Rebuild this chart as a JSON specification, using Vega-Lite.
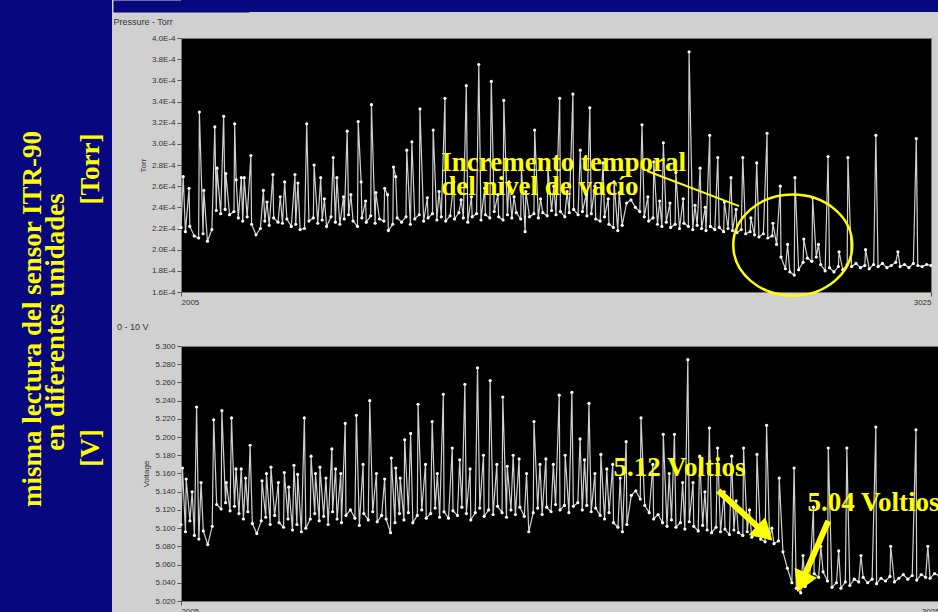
{
"$schema": "https://vega.github.io/schema/vega-lite/v6.json",
"background": "#d0d0d0",
"padding": 0,
"config": {
 "view": {"stroke": null},
 "concat": {"spacing": 0},
 "axis": {"labelFont": "Liberation Sans", "labelFontSize": 8, "labelColor": "#333333", "tickColor": "#555555", "tickSize": 4, "labelPadding": 2, "domain": false, "grid": false, "labelOverlap": false, "titleFont": "Liberation Sans", "titleFontSize": 8, "titleFontWeight": "normal", "titleColor": "#333333", "titlePadding": 4},
 "title": {"font": "Liberation Sans", "fontSize": 9, "fontWeight": "normal", "color": "#333333", "anchor": "start"}
},
"datasets": {
 "torr": [
{"x":2005,"v":2.21e-4},{"x":2011,"v":2.17e-4},{"x":2017,"v":2.22e-4},{"x":2023,"v":2.13e-4},{"x":2029,"v":2.11e-4},{"x":2035,"v":2.15e-4},{"x":2041,"v":2.08e-4},{"x":2047,"v":2.19e-4},{"x":2053,"v":2.37e-4},{"x":2059,"v":2.34e-4},
{"x":2065,"v":2.38e-4},{"x":2071,"v":2.33e-4},{"x":2077,"v":2.36e-4},{"x":2083,"v":2.30e-4},{"x":2089,"v":2.27e-4},{"x":2095,"v":2.31e-4},{"x":2101,"v":2.24e-4},{"x":2107,"v":2.14e-4},{"x":2113,"v":2.20e-4},{"x":2119,"v":2.27e-4},
{"x":2125,"v":2.23e-4},{"x":2131,"v":2.30e-4},{"x":2137,"v":2.26e-4},{"x":2143,"v":2.25e-4},{"x":2149,"v":2.29e-4},{"x":2155,"v":2.22e-4},{"x":2161,"v":2.24e-4},{"x":2167,"v":2.19e-4},{"x":2173,"v":2.20e-4},{"x":2179,"v":2.27e-4},
{"x":2185,"v":2.30e-4},{"x":2191,"v":2.25e-4},{"x":2197,"v":2.28e-4},{"x":2203,"v":2.22e-4},{"x":2209,"v":2.31e-4},{"x":2215,"v":2.26e-4},{"x":2221,"v":2.24e-4},{"x":2227,"v":2.29e-4},{"x":2233,"v":2.33e-4},{"x":2239,"v":2.27e-4},
{"x":2245,"v":2.22e-4},{"x":2251,"v":2.30e-4},{"x":2257,"v":2.26e-4},{"x":2263,"v":2.32e-4},{"x":2269,"v":2.25e-4},{"x":2275,"v":2.29e-4},{"x":2281,"v":2.27e-4},{"x":2287,"v":2.18e-4},{"x":2293,"v":2.24e-4},{"x":2299,"v":2.30e-4},
{"x":2305,"v":2.26e-4},{"x":2311,"v":2.31e-4},{"x":2317,"v":2.24e-4},{"x":2323,"v":2.29e-4},{"x":2329,"v":2.33e-4},{"x":2335,"v":2.27e-4},{"x":2341,"v":2.30e-4},{"x":2347,"v":2.34e-4},{"x":2353,"v":2.28e-4},{"x":2359,"v":2.31e-4},
{"x":2365,"v":2.27e-4},{"x":2371,"v":2.32e-4},{"x":2377,"v":2.29e-4},{"x":2383,"v":2.35e-4},{"x":2389,"v":2.30e-4},{"x":2395,"v":2.26e-4},{"x":2401,"v":2.31e-4},{"x":2407,"v":2.34e-4},{"x":2413,"v":2.28e-4},{"x":2419,"v":2.33e-4},
{"x":2425,"v":2.30e-4},{"x":2431,"v":2.36e-4},{"x":2437,"v":2.31e-4},{"x":2443,"v":2.28e-4},{"x":2449,"v":2.33e-4},{"x":2455,"v":2.30e-4},{"x":2461,"v":2.35e-4},{"x":2467,"v":2.29e-4},{"x":2473,"v":2.17e-4},{"x":2479,"v":2.31e-4},
{"x":2485,"v":2.34e-4},{"x":2491,"v":2.30e-4},{"x":2497,"v":2.35e-4},{"x":2503,"v":2.32e-4},{"x":2509,"v":2.37e-4},{"x":2515,"v":2.33e-4},{"x":2521,"v":2.36e-4},{"x":2527,"v":2.31e-4},{"x":2533,"v":2.35e-4},{"x":2539,"v":2.38e-4},
{"x":2545,"v":2.33e-4},{"x":2551,"v":2.36e-4},{"x":2557,"v":2.32e-4},{"x":2563,"v":2.34e-4},{"x":2569,"v":2.29e-4},{"x":2575,"v":2.27e-4},{"x":2581,"v":2.31e-4},{"x":2587,"v":2.24e-4},{"x":2593,"v":2.21e-4},{"x":2599,"v":2.18e-4},
{"x":2605,"v":2.23e-4},{"x":2611,"v":2.44e-4},{"x":2617,"v":2.47e-4},{"x":2623,"v":2.40e-4},{"x":2629,"v":2.36e-4},{"x":2635,"v":2.31e-4},{"x":2641,"v":2.27e-4},{"x":2647,"v":2.30e-4},{"x":2653,"v":2.24e-4},{"x":2659,"v":2.22e-4},
{"x":2665,"v":2.26e-4},{"x":2671,"v":2.21e-4},{"x":2677,"v":2.24e-4},{"x":2683,"v":2.20e-4},{"x":2689,"v":2.25e-4},{"x":2695,"v":2.22e-4},{"x":2701,"v":2.19e-4},{"x":2707,"v":2.23e-4},{"x":2713,"v":2.20e-4},{"x":2719,"v":2.18e-4},
{"x":2725,"v":2.22e-4},{"x":2731,"v":2.19e-4},{"x":2737,"v":2.21e-4},{"x":2743,"v":2.17e-4},{"x":2749,"v":2.20e-4},{"x":2755,"v":2.18e-4},{"x":2761,"v":2.16e-4},{"x":2767,"v":2.19e-4},{"x":2773,"v":2.15e-4},{"x":2779,"v":2.17e-4},
{"x":2785,"v":2.14e-4},{"x":2791,"v":2.12e-4},{"x":2797,"v":2.15e-4},{"x":2803,"v":2.11e-4},{"x":2809,"v":2.13e-4},{"x":2815,"v":2.05e-4},{"x":2821,"v":1.93e-4},{"x":2827,"v":1.82e-4},{"x":2833,"v":1.79e-4},{"x":2839,"v":1.76e-4},
{"x":2845,"v":1.81e-4},{"x":2851,"v":1.88e-4},{"x":2857,"v":1.92e-4},{"x":2863,"v":1.89e-4},{"x":2869,"v":1.93e-4},{"x":2875,"v":1.86e-4},{"x":2881,"v":1.80e-4},{"x":2887,"v":1.83e-4},{"x":2893,"v":1.79e-4},{"x":2899,"v":1.84e-4},
{"x":2905,"v":1.81e-4},{"x":2911,"v":1.86e-4},{"x":2917,"v":1.84e-4},{"x":2923,"v":1.87e-4},{"x":2929,"v":1.83e-4},{"x":2935,"v":1.85e-4},{"x":2941,"v":1.82e-4},{"x":2947,"v":1.86e-4},{"x":2953,"v":1.84e-4},{"x":2959,"v":1.87e-4},
{"x":2965,"v":1.83e-4},{"x":2971,"v":1.85e-4},{"x":2977,"v":1.88e-4},{"x":2983,"v":1.84e-4},{"x":2989,"v":1.86e-4},{"x":2995,"v":1.83e-4},{"x":3001,"v":1.87e-4},{"x":3007,"v":1.85e-4},{"x":3013,"v":1.84e-4},{"x":3019,"v":1.86e-4},{"x":3025,"v":1.85e-4},
{"x":2008,"v":2.69e-4},{"x":2016,"v":2.58e-4},{"x":2030,"v":3.30e-4},{"x":2036,"v":2.56e-4},{"x":2051,"v":3.16e-4},{"x":2054,"v":2.77e-4},{"x":2063,"v":3.26e-4},{"x":2066,"v":2.72e-4},{"x":2078,"v":3.19e-4},{"x":2080,"v":2.66e-4},
{"x":2087,"v":2.68e-4},{"x":2091,"v":2.68e-4},{"x":2100,"v":2.89e-4},{"x":2117,"v":2.56e-4},{"x":2130,"v":2.71e-4},{"x":2146,"v":2.64e-4},{"x":2160,"v":2.71e-4},{"x":2164,"v":2.63e-4},{"x":2176,"v":3.19e-4},{"x":2186,"v":2.80e-4},
{"x":2195,"v":2.68e-4},{"x":2212,"v":2.87e-4},{"x":2217,"v":2.68e-4},{"x":2231,"v":3.12e-4},{"x":2236,"v":2.52e-4},{"x":2246,"v":3.21e-4},{"x":2250,"v":2.64e-4},{"x":2264,"v":3.37e-4},{"x":2270,"v":2.54e-4},{"x":2282,"v":2.58e-4},
{"x":2294,"v":2.78e-4},{"x":2297,"v":2.69e-4},{"x":2312,"v":2.94e-4},{"x":2319,"v":3.02e-4},{"x":2330,"v":3.33e-4},{"x":2348,"v":3.13e-4},{"x":2364,"v":3.43e-4},{"x":2376,"v":2.64e-4},{"x":2393,"v":3.55e-4},{"x":2410,"v":3.75e-4},
{"x":2427,"v":3.59e-4},{"x":2444,"v":3.41e-4},{"x":2451,"v":2.64e-4},{"x":2468,"v":2.77e-4},{"x":2486,"v":3.13e-4},{"x":2504,"v":2.77e-4},{"x":2520,"v":3.43e-4},{"x":2538,"v":3.47e-4},{"x":2548,"v":2.94e-4},{"x":2561,"v":3.34e-4},
{"x":2579,"v":2.82e-4},{"x":2594,"v":2.64e-4},{"x":2601,"v":2.54e-4},{"x":2632,"v":3.18e-4},{"x":2648,"v":2.83e-4},{"x":2661,"v":3.01e-4},{"x":2678,"v":2.73e-4},{"x":2696,"v":3.87e-4},{"x":2711,"v":2.77e-4},{"x":2724,"v":3.08e-4},
{"x":2735,"v":2.87e-4},{"x":2753,"v":2.68e-4},{"x":2769,"v":2.87e-4},{"x":2788,"v":2.82e-4},{"x":2802,"v":3.10e-4},{"x":2820,"v":2.60e-4},{"x":2840,"v":2.68e-4},{"x":2864,"v":2.49e-4},{"x":2885,"v":2.88e-4},{"x":2912,"v":2.87e-4},
{"x":2950,"v":3.08e-4},{"x":3005,"v":3.05e-4},
{"x":2122,"v":2.45e-4},{"x":2140,"v":2.50e-4},{"x":2200,"v":2.48e-4},{"x":2226,"v":2.50e-4},{"x":2256,"v":2.46e-4},{"x":2286,"v":2.52e-4},{"x":2340,"v":2.49e-4},{"x":2356,"v":2.55e-4},{"x":2386,"v":2.47e-4},{"x":2400,"v":2.50e-4},
{"x":2418,"v":2.58e-4},{"x":2436,"v":2.52e-4},{"x":2458,"v":2.50e-4},{"x":2474,"v":2.55e-4},{"x":2494,"v":2.48e-4},{"x":2512,"v":2.60e-4},{"x":2530,"v":2.55e-4},{"x":2556,"v":2.52e-4},{"x":2568,"v":2.60e-4},{"x":2586,"v":2.48e-4},
{"x":2640,"v":2.50e-4},{"x":2656,"v":2.46e-4},{"x":2670,"v":2.44e-4},{"x":2688,"v":2.48e-4},{"x":2704,"v":2.42e-4},{"x":2718,"v":2.40e-4},{"x":2744,"v":2.45e-4},{"x":2760,"v":2.38e-4},{"x":2780,"v":2.30e-4},{"x":2810,"v":2.25e-4},
{"x":2830,"v":2.05e-4},{"x":2852,"v":2.10e-4},{"x":2872,"v":2.05e-4},{"x":2900,"v":1.98e-4},{"x":2936,"v":2.00e-4},{"x":2980,"v":1.98e-4}
 ],
 "volt": [
{"x":2005,"v":5.104},{"x":2011,"v":5.096},{"x":2017,"v":5.108},{"x":2023,"v":5.092},{"x":2029,"v":5.088},{"x":2035,"v":5.097},{"x":2041,"v":5.082},{"x":2047,"v":5.102},{"x":2053,"v":5.126},{"x":2059,"v":5.121},
{"x":2065,"v":5.128},{"x":2071,"v":5.119},{"x":2077,"v":5.124},{"x":2083,"v":5.116},{"x":2089,"v":5.110},{"x":2095,"v":5.118},{"x":2101,"v":5.105},{"x":2107,"v":5.094},{"x":2113,"v":5.108},{"x":2119,"v":5.112},
{"x":2125,"v":5.104},{"x":2131,"v":5.114},{"x":2137,"v":5.106},{"x":2143,"v":5.101},{"x":2149,"v":5.110},{"x":2155,"v":5.098},{"x":2161,"v":5.104},{"x":2167,"v":5.096},{"x":2173,"v":5.100},{"x":2179,"v":5.110},
{"x":2185,"v":5.116},{"x":2191,"v":5.108},{"x":2197,"v":5.113},{"x":2203,"v":5.104},{"x":2209,"v":5.118},{"x":2215,"v":5.110},{"x":2221,"v":5.106},{"x":2227,"v":5.114},{"x":2233,"v":5.120},{"x":2239,"v":5.111},
{"x":2245,"v":5.103},{"x":2251,"v":5.116},{"x":2257,"v":5.109},{"x":2263,"v":5.118},{"x":2269,"v":5.107},{"x":2275,"v":5.114},{"x":2281,"v":5.110},{"x":2287,"v":5.095},{"x":2293,"v":5.106},{"x":2299,"v":5.116},
{"x":2305,"v":5.109},{"x":2311,"v":5.117},{"x":2317,"v":5.106},{"x":2323,"v":5.114},{"x":2329,"v":5.120},{"x":2335,"v":5.111},{"x":2341,"v":5.116},{"x":2347,"v":5.122},{"x":2353,"v":5.112},{"x":2359,"v":5.118},
{"x":2365,"v":5.111},{"x":2371,"v":5.119},{"x":2377,"v":5.114},{"x":2383,"v":5.123},{"x":2389,"v":5.116},{"x":2395,"v":5.109},{"x":2401,"v":5.117},{"x":2407,"v":5.122},{"x":2413,"v":5.113},{"x":2419,"v":5.120},
{"x":2425,"v":5.115},{"x":2431,"v":5.124},{"x":2437,"v":5.117},{"x":2443,"v":5.112},{"x":2449,"v":5.120},{"x":2455,"v":5.115},{"x":2461,"v":5.123},{"x":2467,"v":5.113},{"x":2473,"v":5.096},{"x":2479,"v":5.117},
{"x":2485,"v":5.122},{"x":2491,"v":5.115},{"x":2497,"v":5.123},{"x":2503,"v":5.118},{"x":2509,"v":5.126},{"x":2515,"v":5.120},{"x":2521,"v":5.125},{"x":2527,"v":5.117},{"x":2533,"v":5.124},{"x":2539,"v":5.128},
{"x":2545,"v":5.120},{"x":2551,"v":5.125},{"x":2557,"v":5.118},{"x":2563,"v":5.122},{"x":2569,"v":5.114},{"x":2575,"v":5.110},{"x":2581,"v":5.117},{"x":2587,"v":5.106},{"x":2593,"v":5.101},{"x":2599,"v":5.096},
{"x":2605,"v":5.104},{"x":2611,"v":5.136},{"x":2617,"v":5.141},{"x":2623,"v":5.132},{"x":2629,"v":5.125},{"x":2635,"v":5.117},{"x":2641,"v":5.110},{"x":2647,"v":5.115},{"x":2653,"v":5.106},{"x":2659,"v":5.102},
{"x":2665,"v":5.109},{"x":2671,"v":5.101},{"x":2677,"v":5.106},{"x":2683,"v":5.099},{"x":2689,"v":5.107},{"x":2695,"v":5.102},{"x":2701,"v":5.097},{"x":2707,"v":5.103},{"x":2713,"v":5.098},{"x":2719,"v":5.095},
{"x":2725,"v":5.101},{"x":2731,"v":5.096},{"x":2737,"v":5.099},{"x":2743,"v":5.093},{"x":2749,"v":5.098},{"x":2755,"v":5.095},{"x":2761,"v":5.092},{"x":2767,"v":5.096},{"x":2773,"v":5.090},{"x":2779,"v":5.093},
{"x":2785,"v":5.088},{"x":2791,"v":5.085},{"x":2797,"v":5.089},{"x":2803,"v":5.083},{"x":2809,"v":5.086},{"x":2815,"v":5.074},{"x":2821,"v":5.056},{"x":2827,"v":5.040},{"x":2833,"v":5.034},{"x":2839,"v":5.029},
{"x":2845,"v":5.036},{"x":2851,"v":5.045},{"x":2857,"v":5.050},{"x":2863,"v":5.046},{"x":2869,"v":5.052},{"x":2875,"v":5.042},{"x":2881,"v":5.035},{"x":2887,"v":5.040},{"x":2893,"v":5.034},{"x":2899,"v":5.041},
{"x":2905,"v":5.037},{"x":2911,"v":5.044},{"x":2917,"v":5.041},{"x":2923,"v":5.046},{"x":2929,"v":5.040},{"x":2935,"v":5.044},{"x":2941,"v":5.039},{"x":2947,"v":5.045},{"x":2953,"v":5.042},{"x":2959,"v":5.047},
{"x":2965,"v":5.041},{"x":2971,"v":5.045},{"x":2977,"v":5.049},{"x":2983,"v":5.044},{"x":2989,"v":5.048},{"x":2995,"v":5.043},{"x":3001,"v":5.049},{"x":3007,"v":5.046},{"x":3013,"v":5.045},{"x":3019,"v":5.050},{"x":3025,"v":5.048},
{"x":2007,"v":5.166},{"x":2012,"v":5.154},{"x":2026,"v":5.233},{"x":2032,"v":5.150},{"x":2049,"v":5.219},{"x":2060,"v":5.229},{"x":2073,"v":5.221},{"x":2079,"v":5.165},{"x":2086,"v":5.165},{"x":2098,"v":5.191},
{"x":2114,"v":5.152},{"x":2126,"v":5.167},{"x":2144,"v":5.161},{"x":2157,"v":5.169},{"x":2162,"v":5.159},{"x":2171,"v":5.221},{"x":2180,"v":5.179},{"x":2192,"v":5.167},{"x":2208,"v":5.187},{"x":2213,"v":5.165},
{"x":2226,"v":5.215},{"x":2241,"v":5.224},{"x":2259,"v":5.240},{"x":2279,"v":5.154},{"x":2288,"v":5.177},{"x":2294,"v":5.166},{"x":2306,"v":5.197},{"x":2314,"v":5.204},{"x":2324,"v":5.236},{"x":2343,"v":5.217},
{"x":2358,"v":5.247},{"x":2370,"v":5.188},{"x":2387,"v":5.258},{"x":2404,"v":5.276},{"x":2421,"v":5.262},{"x":2438,"v":5.244},{"x":2444,"v":5.168},{"x":2460,"v":5.176},{"x":2480,"v":5.217},{"x":2496,"v":5.176},
{"x":2514,"v":5.246},{"x":2531,"v":5.249},{"x":2542,"v":5.198},{"x":2554,"v":5.237},{"x":2570,"v":5.181},{"x":2586,"v":5.170},{"x":2604,"v":5.195},{"x":2624,"v":5.221},{"x":2654,"v":5.203},{"x":2669,"v":5.203},
{"x":2687,"v":5.285},{"x":2703,"v":5.179},{"x":2716,"v":5.210},{"x":2727,"v":5.188},{"x":2746,"v":5.179},{"x":2762,"v":5.188},{"x":2780,"v":5.181},{"x":2793,"v":5.213},{"x":2810,"v":5.155},{"x":2830,"v":5.166},
{"x":2856,"v":5.123},{"x":2876,"v":5.188},{"x":2901,"v":5.188},{"x":2940,"v":5.211},{"x":2994,"v":5.208},
{"x":2020,"v":5.14},{"x":2066,"v":5.15},{"x":2092,"v":5.155},{"x":2120,"v":5.16},{"x":2136,"v":5.15},{"x":2150,"v":5.145},{"x":2186,"v":5.16},{"x":2200,"v":5.155},{"x":2220,"v":5.16},{"x":2250,"v":5.17},
{"x":2268,"v":5.16},{"x":2300,"v":5.155},{"x":2334,"v":5.17},{"x":2350,"v":5.16},{"x":2380,"v":5.175},{"x":2394,"v":5.165},{"x":2412,"v":5.18},{"x":2430,"v":5.17},{"x":2452,"v":5.18},{"x":2470,"v":5.16},
{"x":2488,"v":5.17},{"x":2506,"v":5.17},{"x":2522,"v":5.18},{"x":2548,"v":5.175},{"x":2562,"v":5.16},{"x":2578,"v":5.165},{"x":2596,"v":5.155},{"x":2640,"v":5.17},{"x":2662,"v":5.16},{"x":2680,"v":5.15},
{"x":2694,"v":5.15},{"x":2710,"v":5.14},{"x":2736,"v":5.14},{"x":2752,"v":5.13},{"x":2770,"v":5.12},{"x":2800,"v":5.10},{"x":2842,"v":5.07},{"x":2866,"v":5.08},{"x":2890,"v":5.075},{"x":2920,"v":5.07},{"x":2960,"v":5.08},{"x":3010,"v":5.08}
 ]
},
"hconcat": [
 {
  "width": 112, "height": 612,
  "view": {"fill": "#07077f", "stroke": null},
  "data": {"values": [{}]},
  "layer": [
   {"mark": {"type": "text", "font": "Liberation Serif", "fontWeight": "bold", "fontSize": 27, "color": "#ffff00", "angle": 270, "align": "center", "baseline": "middle"},
    "encoding": {
     "x": {"datum": 33, "type": "quantitative", "scale": {"domain": [0, 112], "nice": false, "zero": false}, "axis": null},
     "y": {"datum": 319, "type": "quantitative", "scale": {"domain": [0, 612], "nice": false, "zero": false, "reverse": true}, "axis": null},
     "text": {"value": "misma lectura del sensor ITR-90"}}},
   {"mark": {"type": "text", "font": "Liberation Serif", "fontWeight": "bold", "fontSize": 27, "color": "#ffff00", "angle": 270, "align": "center", "baseline": "middle"},
    "encoding": {
     "x": {"datum": 56, "type": "quantitative"},
     "y": {"datum": 322, "type": "quantitative"},
     "text": {"value": "en diferentes unidades"}}},
   {"mark": {"type": "text", "font": "Liberation Serif", "fontWeight": "bold", "fontSize": 27, "color": "#ffff00", "angle": 270, "align": "center", "baseline": "middle"},
    "encoding": {
     "x": {"datum": 91, "type": "quantitative"},
     "y": {"datum": 169, "type": "quantitative"},
     "text": {"value": "[Torr]"}}},
   {"mark": {"type": "text", "font": "Liberation Serif", "fontWeight": "bold", "fontSize": 27, "color": "#ffff00", "angle": 270, "align": "center", "baseline": "middle"},
    "encoding": {
     "x": {"datum": 91, "type": "quantitative"},
     "y": {"datum": 448, "type": "quantitative"},
     "text": {"value": "[V]"}}}
  ]
 },
 {
  "columns": 1,
  "align": "none",
  "spacing": 0,
  "concat": [
   {
    "width": 758, "height": 12,
    "view": {"fill": "#07077f", "stroke": null},
    "data": {"values": [{}]},
    "mark": {"type": "text"},
    "encoding": {
     "text": {"value": " "},
     "y": {"datum": 0, "type": "quantitative", "scale": {"domain": [0, 1], "nice": false}, "axis": {"domain": true, "domainColor": "#07077f", "domainWidth": 136, "domainCap": "butt", "ticks": false, "labels": false, "title": null}}
    }
   },
   {
    "spacing": 15,
    "vconcat": [
     {
      "width": 750, "height": 254,
      "title": {"text": "Pressure - Torr", "dx": -26, "offset": 7},
      "view": {"fill": "#000000", "stroke": "#777777"},
      "layer": [
       {"data": {"name": "torr"},
        "mark": {"type": "line", "color": "#d0d0d0", "strokeWidth": 1.2, "point": {"filled": true, "size": 10, "color": "#ffffff"}},
        "encoding": {
         "x": {"field": "x", "type": "quantitative", "scale": {"domain": [2005, 3025], "nice": false, "zero": false}, "axis": {"values": [2005, 3025], "tickCount": 20, "title": null, "format": "d", "labelFlush": true}},
         "y": {"field": "v", "type": "quantitative", "scale": {"domain": [0.00016, 0.0004], "nice": false, "zero": false}, "axis": {"values": [0.00016, 0.00018, 0.0002, 0.00022, 0.00024, 0.00026, 0.00028, 0.0003, 0.00032, 0.00034, 0.00036, 0.00038, 0.0004], "tickCount": 20, "title": "Torr", "labelOverlap": false, "labelExpr": "replace(format(datum.value, '.1e'), 'e', 'E')"}}}},
       {"data": {"values": [{}]},
        "mark": {"type": "text", "font": "Liberation Serif", "fontWeight": "bold", "fontSize": 27, "color": "#ffff00", "align": "left", "baseline": "middle", "lineHeight": 24},
        "encoding": {
         "x": {"datum": 2359, "type": "quantitative"},
         "y": {"datum": 0.000282, "type": "quantitative"},
         "text": {"value": ["Incremento temporal", "del nivel de vacío"]}}},
       {"data": {"values": [{}]},
        "mark": {"type": "rule", "color": "#ffff00", "strokeWidth": 2},
        "encoding": {
         "x": {"datum": 2639, "type": "quantitative"},
         "y": {"datum": 0.0002743, "type": "quantitative"},
         "x2": {"datum": 2764},
         "y2": {"datum": 0.0002412}}},
       {"data": {"values": [{}]},
        "mark": {"type": "point", "shape": "M -1 0 A 1 0.85 0 1 1 1 0 A 1 0.85 0 1 1 -1 0 Z", "filled": false, "color": "#ffff00", "strokeWidth": 2.5, "size": 14161, "opacity": 1},
        "encoding": {
         "x": {"datum": 2837, "type": "quantitative"},
         "y": {"datum": 0.0002043, "type": "quantitative"}}}
      ]
     },
     {
      "width": 758, "height": 255,
      "title": {"text": "0 - 10 V", "dx": -26, "offset": 10},
      "view": {"fill": "#000000", "stroke": "#777777"},
      "layer": [
       {"data": {"name": "volt"},
        "mark": {"type": "line", "color": "#d0d0d0", "strokeWidth": 1.2, "point": {"filled": true, "size": 10, "color": "#ffffff"}},
        "encoding": {
         "x": {"field": "x", "type": "quantitative", "scale": {"domain": [2005, 3025], "nice": false, "zero": false}, "axis": {"values": [2005, 3025], "tickCount": 20, "title": null, "format": "d", "labelFlush": true}},
         "y": {"field": "v", "type": "quantitative", "scale": {"domain": [5.02, 5.3], "nice": false, "zero": false}, "axis": {"values": [5.02, 5.04, 5.06, 5.08, 5.1, 5.12, 5.14, 5.16, 5.18, 5.2, 5.22, 5.24, 5.26, 5.28, 5.3], "tickCount": 20, "title": "Voltage", "labelOverlap": false, "format": ".3f"}}}},
       {"data": {"values": [{}]},
        "mark": {"type": "text", "font": "Liberation Serif", "fontWeight": "bold", "fontSize": 27, "color": "#ffff00", "align": "left", "baseline": "middle"},
        "encoding": {
         "x": {"datum": 2587, "type": "quantitative"},
         "y": {"datum": 5.166, "type": "quantitative"},
         "text": {"value": "5.12 Voltios"}}},
       {"data": {"values": [{}]},
        "mark": {"type": "text", "font": "Liberation Serif", "fontWeight": "bold", "fontSize": 27, "color": "#ffff00", "align": "left", "baseline": "middle"},
        "encoding": {
         "x": {"datum": 2848, "type": "quantitative"},
         "y": {"datum": 5.128, "type": "quantitative"},
         "text": {"value": "5.04 Voltios"}}},
       {"data": {"values": [{}]},
        "mark": {"type": "rule", "color": "#ffff00", "strokeWidth": 6},
        "encoding": {
         "x": {"datum": 2728, "type": "quantitative"},
         "y": {"datum": 5.141, "type": "quantitative"},
         "x2": {"datum": 2787},
         "y2": {"datum": 5.097}}},
       {"data": {"values": [{}]},
        "mark": {"type": "rule", "color": "#ffff00", "strokeWidth": 6},
        "encoding": {
         "x": {"datum": 2876, "type": "quantitative"},
         "y": {"datum": 5.108, "type": "quantitative"},
         "x2": {"datum": 2842},
         "y2": {"datum": 5.044}}},
       {"data": {"values": [{}]},
        "mark": {"type": "point", "shape": "triangle", "filled": true, "color": "#ffff00", "size": 600, "angle": 133, "opacity": 1},
        "encoding": {
         "x": {"datum": 2787, "type": "quantitative"},
         "y": {"datum": 5.097, "type": "quantitative"}}},
       {"data": {"values": [{}]},
        "mark": {"type": "point", "shape": "triangle", "filled": true, "color": "#ffff00", "size": 600, "angle": 204, "opacity": 1},
        "encoding": {
         "x": {"datum": 2842, "type": "quantitative"},
         "y": {"datum": 5.044, "type": "quantitative"}}}
      ]
     }
    ]
   }
  ]
 }
]
}
